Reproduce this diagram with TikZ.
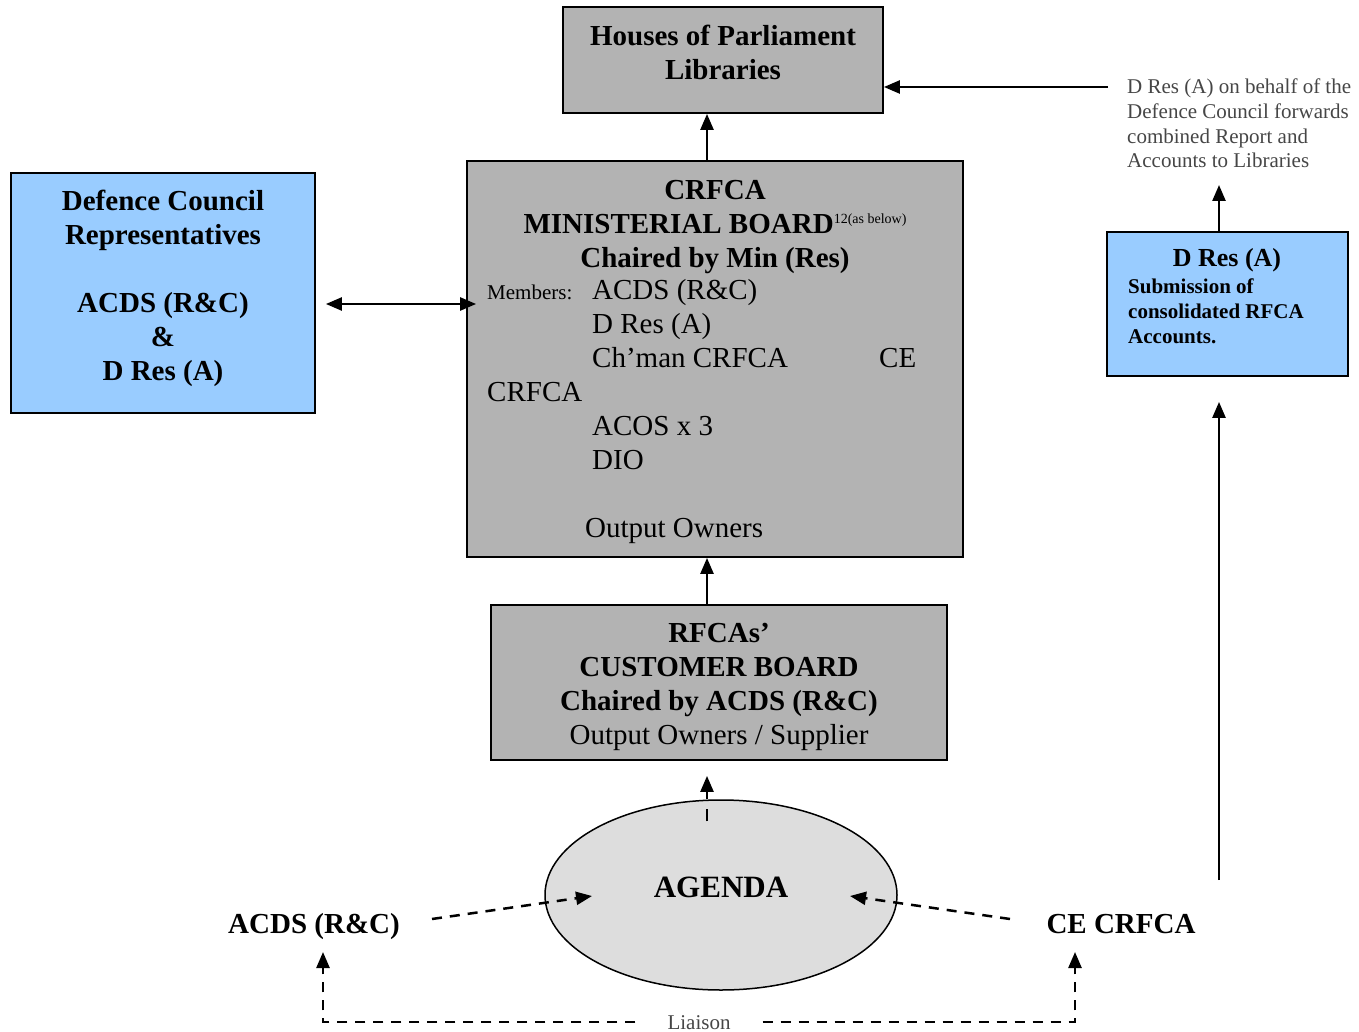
\documentclass[tikz,border=0pt]{standalone}
\usepackage{fontspec}
\setmainfont{Liberation Serif}
\usetikzlibrary{arrows.meta,shapes.geometric,positioning}
\definecolor{boxgrey}{RGB}{179,179,179}
\definecolor{boxblue}{RGB}{153,204,255}
\definecolor{agendagrey}{RGB}{221,221,221}
\definecolor{notegrey}{RGB}{70,70,70}

\begin{document}
\begin{tikzpicture}[x=1pt,y=-1pt,>={Triangle[length=16pt,width=13pt]},
  greybox/.style={draw,fill=boxgrey,line width=1.8pt,inner sep=0pt},
  bluebox/.style={draw,fill=boxblue,line width=1.8pt,inner sep=0pt},
  head/.style={font=\fontsize{29}{34}\selectfont\bfseries,align=center,anchor=base,inner sep=0pt},
  plain/.style={font=\fontsize{29}{34}\selectfont,align=left,anchor=base west,inner sep=0pt},
  small/.style={font=\fontsize{21}{24.7}\selectfont,align=left,anchor=base west,inner sep=0pt},
  link/.style={->,line width=2.5pt},
  dashlink/.style={->,line width=2.5pt,dash pattern=on 10pt off 8pt}]

\useasboundingbox (0,0) rectangle (1359,1032);

% boxes (text nodes sit on the baseline of their last line)
\node[greybox,minimum width=320pt,minimum height=106pt] (hpl) at (723,60) {};
\node[head] (hpltext) at (723,79.5) {Houses of Parliament\\Libraries};

\node[greybox,minimum width=496pt,minimum height=396pt] (mb) at (715,359) {};
\node[head] (mbhead) at (715,267.5) {CRFCA\\MINISTERIAL BOARD\raisebox{10pt}{\fontsize{14}{14}\selectfont\mdseries 12(as below)}\\Chaired by Min (Res)};
\node[plain] (mbbody) at (487,537) {\makebox[105pt][l]{\fontsize{21}{34}\selectfont Members:}ACDS (R\&C)\\
  \hspace*{105pt}D Res (A)\\
  \hspace*{105pt}\makebox[287pt][l]{Ch’man CRFCA}CE\\
  CRFCA\\
  \hspace*{105pt}ACOS x 3\\
  \hspace*{105pt}DIO\\[34pt]
  \hspace*{98pt}Output Owners};

\node[greybox,minimum width=456pt,minimum height=155pt] (cb) at (719,682.5) {};
\node[head] (cbtext) at (719,744.5) {RFCAs’\\CUSTOMER BOARD\\Chaired by ACDS (R\&C)\\\mdseries Output Owners / Supplier};

\node[bluebox,minimum width=304pt,minimum height=240pt] (dcr) at (163,293) {};
\node[head] (dcrtext) at (163,380) {Defence Council\\Representatives\\[34pt]ACDS (R\&C)\\\&\\D Res (A)};

\node[bluebox,minimum width=241pt,minimum height=144pt] (dra) at (1227.5,304) {};
\node[head,font=\fontsize{26}{30}\selectfont\bfseries] (dratitle) at (1227,266.5) {D Res (A)};
\node[small,font=\fontsize{21}{25}\selectfont\bfseries] (drabody) at (1128,343) {Submission of\\consolidated RFCA\\Accounts.};

\node[small,text=notegrey] (note) at (1127,168) {D Res (A) on behalf of the\\Defence Council forwards\\combined Report and\\Accounts to Libraries};

% agenda
\node[draw,ellipse,fill=agendagrey,line width=1.5pt,minimum width=352pt,minimum height=190pt,inner sep=0pt] (agenda) at (721,895) {};
\node[head,font=\fontsize{31}{36}\selectfont\bfseries] (agendatext) at (721,897) {AGENDA};
\node[head] (acds) at (314,933.5) {ACDS (R\&C)};
\node[head] (ce) at (1121,933.5) {CE CRFCA};
\node[small,anchor=base,text=notegrey,inner xsep=32pt] (liaison) at (699,1029) {Liaison};

\coordinate (notetail) at (1108,87);
\coordinate (drahead) at (1219,185);
\coordinate (risetail) at (1219,880);
\coordinate (acdstail) at (432,919);
\coordinate (acdshead) at (592,896);
\coordinate (cetail) at (1010,919);
\coordinate (cehead) at (850,896);
\coordinate (liaisonl) at (323,952);
\coordinate (liaisonr) at (1075,952);

% links
\draw[link] ([xshift=-8pt]mb.north) -- ([xshift=-8pt]mb.north |- hpl.south);
\draw[link] ([xshift=-12pt]cb.north) -- ([xshift=-12pt]cb.north |- mb.south);
\draw[link,<->] ([xshift=10pt,yshift=-11pt]dcr.east) -- ([xshift=10pt,yshift=-11pt]dcr.east -| mb.west);
\draw[link] (notetail) -- (notetail -| hpl.east);
\draw[link] (dra.north -| drahead) -- (drahead);
\draw[link] (risetail) -- ([yshift=-25pt]dra.south -| risetail);

\draw[dashlink,dash pattern=on 12pt off 10pt] ([xshift=-14pt,yshift=-22pt]agenda.north) -- ([xshift=-12pt,yshift=-15pt]cb.south);
\draw[dashlink] (acdstail) -- (acdshead);
\draw[dashlink] (cetail) -- (cehead);
\draw[dashlink] (liaison.west) -| (liaisonl);
\draw[dashlink] (liaison.east) -| (liaisonr);
\end{tikzpicture}
\end{document}
